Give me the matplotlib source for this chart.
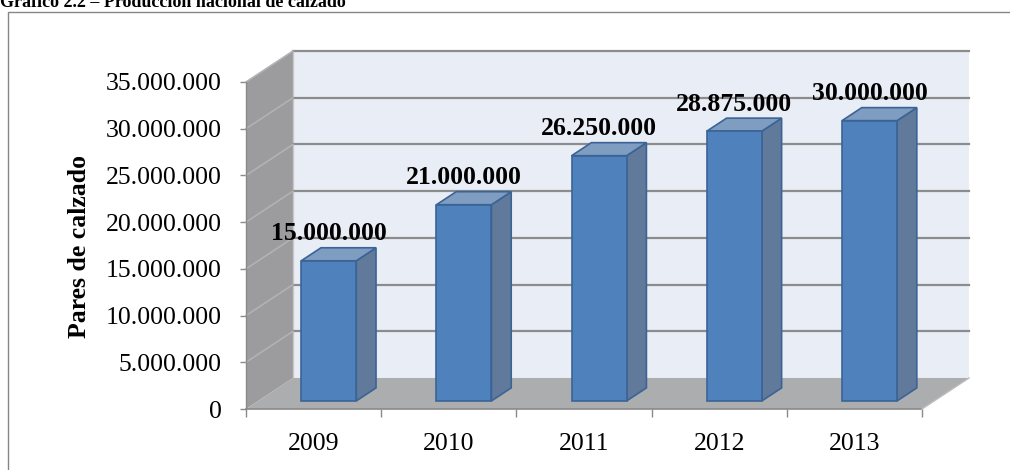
import matplotlib.pyplot as plt
from matplotlib.patches import Polygon, Rectangle

plt.rcParams['font.family'] = ['Liberation Serif', 'DejaVu Serif']

years = ['2009', '2010', '2011', '2012', '2013']
pairs = [15000000, 21000000, 26250000, 28875000, 30000000]
y_ticks = [0, 5000000, 10000000, 15000000, 20000000, 25000000, 30000000, 35000000]
title = 'Gráfico 2.2 – Producción nacional de calzado'
y_title = 'Pares de calzado'


def fmt(v):
    return f'{int(v):,}'.replace(',', '.')


# oblique depth of the 3d box, in data units
DX, DY = 0.348, 3.32e6
# bar footprint inside each category (front face x, width, depth range)
BAR_X0, BAR_W = 0.318, 0.407
T0, T1 = 0.26, 0.68

FS = 18.5


def proj(x, y, d):
    return (x + d * DX, y + d * DY)


def face(ax, pts, fc, ec='none', lw=0, z=1):
    ax.add_patch(Polygon([proj(*p) for p in pts], closed=True, fc=fc, ec=ec,
                         lw=lw, zorder=z, clip_on=False, joinstyle='miter'))


fig = plt.figure(figsize=(10.1, 4.7), dpi=100)
ax = fig.add_axes([246 / 1010, 61 / 470, 676 / 1010, 327 / 470])
n = len(years)
ymax = y_ticks[-1]
ax.set_xlim(0, n)
ax.set_ylim(0, ymax)
ax.patch.set_visible(False)
for s in ax.spines.values():
    s.set_visible(False)

# walls and floor
face(ax, [(0, 0, 1), (n, 0, 1), (n, ymax, 1), (0, ymax, 1)], '#e9edf6', z=1)
face(ax, [(0, 0, 0), (0, 0, 1), (0, ymax, 1), (0, ymax, 0)], '#9c9c9e', z=1)
face(ax, [(0, 0, 0), (n, 0, 0), (n, 0, 1), (0, 0, 1)], '#abadaf', z=3)
ax.plot(*zip(proj(0, 0, 1), proj(0, ymax, 1)), color='#c8c8c8', lw=1, zorder=2, clip_on=False)

# gridlines on back wall and side wall
for v in y_ticks[1:]:
    ax.plot(*zip(proj(0, v, 1), proj(n, v, 1)), color='#8c8c8c', lw=1.6, zorder=2, clip_on=False)
    ax.plot(*zip(proj(0, v, 0), proj(0, v, 1)), color='#b2b2b4', lw=1.2, zorder=2, clip_on=False)

# front edges of the floor and the side wall
ax.plot(*zip(proj(0, 0, 0), proj(n, 0, 0)), color='#8a8a8a', lw=1.2, zorder=3.5, clip_on=False)
ax.plot(*zip(proj(n, 0, 0), proj(n, 0, 1)), color='#bdbdbd', lw=1, zorder=3.5, clip_on=False)
ax.plot(*zip(proj(0, 0, 0), proj(0, ymax, 0)), color='#8a8a8a', lw=1, zorder=3.5, clip_on=False)

# bars
edge = '#3b6496'
for i, v in enumerate(pairs):
    x0 = i + BAR_X0
    x1 = x0 + BAR_W
    face(ax, [(x1, 0, T0), (x1, 0, T1), (x1, v, T1), (x1, v, T0)], '#61799b', edge, 1.2, 4)
    face(ax, [(x0, v, T0), (x1, v, T0), (x1, v, T1), (x0, v, T1)], '#7f9cc1', edge, 1.2, 4)
    face(ax, [(x0, 0, T0), (x1, 0, T0), (x1, v, T0), (x0, v, T0)], '#4f81bd', edge, 1.2, 4.5)
    cx, cy = proj(x0 + BAR_W / 2, v, T0)
    ax.annotate(fmt(v), (cx, cy), xytext=(0, 19.5), textcoords='offset points',
                ha='center', va='center', fontsize=FS, fontweight='bold', zorder=6,
                annotation_clip=False)

# axes ticks
ax.set_yticks(y_ticks)
ax.set_yticklabels([fmt(v) for v in y_ticks])
ax.tick_params(axis='y', length=4.5, width=1, color='#8a8a8a', pad=13, labelsize=FS)
ax.set_xticks(range(n + 1))
ax.set_xticklabels([])
ax.set_xticks([i + 0.5 for i in range(n)], minor=True)
ax.set_xticklabels(years, minor=True)
ax.tick_params(axis='x', which='major', length=6, width=1, color='#8a8a8a')
ax.tick_params(axis='x', which='minor', length=0, pad=17, labelsize=FS)

fig.text(80 / 1010, 1 - 247 / 470, y_title, rotation=90, ha='center', va='center',
         fontsize=FS, fontweight='bold')
fig.text(0.0, 1 - 7 / 470, title, ha='left', va='baseline', fontsize=13, fontweight='bold')

# frame around the chart
fig.add_artist(Rectangle((8 / 1010, -0.1), 1.2, 0.1 + (470 - 12) / 470,
                         transform=fig.transFigure, fill=False, ec='#868686', lw=1))

fig.savefig('out.png', dpi=100)
